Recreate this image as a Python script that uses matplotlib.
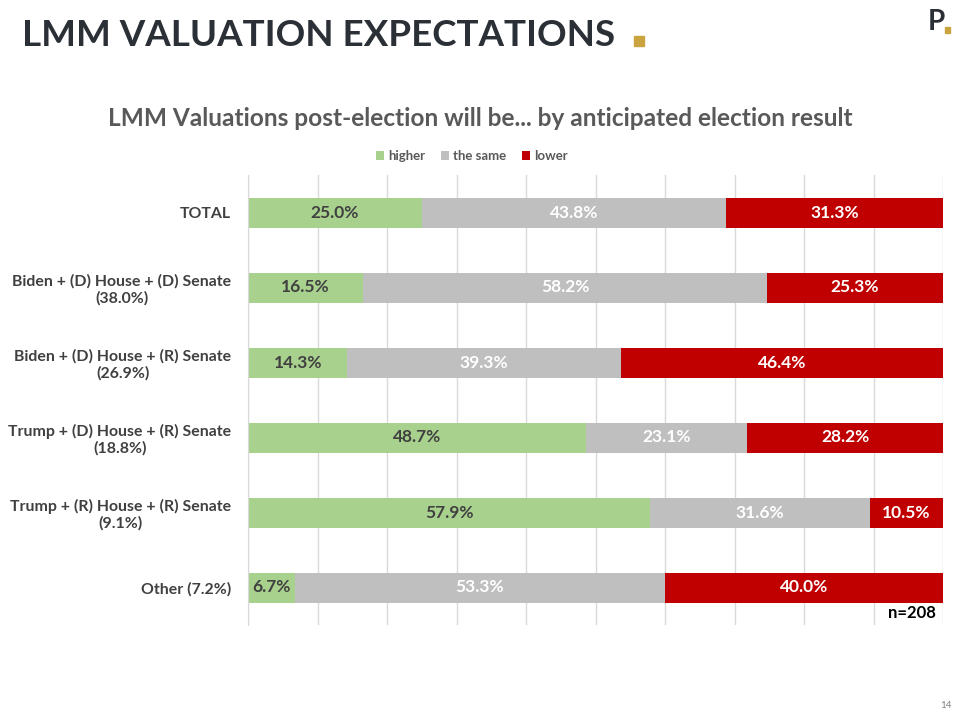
import numpy as np
import matplotlib.pyplot as plt
from matplotlib.patches import Rectangle

plt.rcParams['font.family'] = ['Lato', 'DejaVu Sans']

categories = ['TOTAL',
              'Biden + (D) House + (D) Senate\n(38.0%)',
              'Biden + (D) House + (R) Senate\n(26.9%)',
              'Trump + (D) House + (R) Senate\n(18.8%)',
              'Trump + (R) House + (R) Senate\n(9.1%)',
              'Other (7.2%)']
higher = [25.0, 16.5, 14.3, 48.7, 57.9, 6.7]
same = [43.8, 58.2, 39.3, 23.1, 31.6, 53.3]
lower = [31.3, 25.3, 46.4, 28.2, 10.5, 40.0]
series = [('higher', higher, '#a9d18e', '#404040'),
          ('the same', same, '#bfbfbf', 'white'),
          ('lower', lower, '#c00000', 'white')]

fig = plt.figure(figsize=(9.6, 7.2), dpi=100)
ax = fig.add_axes([248/960, 1-625/720, 695/960, 450/720])

y = np.arange(len(categories))
left = np.zeros(len(categories))
for name, vals, col, tcol in series:
    vals = np.array(vals)
    ax.barh(y, vals, left=left, height=0.4, color=col, label=name, zorder=2)
    for yi, l, v in zip(y, left, vals):
        ax.text(l + v/2, yi, f'{v:.1f}%', ha='center', va='center',
                color=tcol, fontsize=12.5, fontweight='bold', zorder=3)
    left += vals

ax.set_xlim(0, 100)
ax.set_ylim(len(categories) - 0.5, -0.5)
ax.set_xticks(np.arange(0, 101, 10))
ax.xaxis.grid(True, color='#d9d9d9', linewidth=1, zorder=0)
ax.tick_params(axis='x', length=0, labelbottom=False)
ax.tick_params(axis='y', length=0, pad=12)
ax.set_yticks(y)
ax.set_yticklabels(categories, fontsize=11.4, fontweight='bold', color='#404040')
for lab in ax.get_yticklabels():
    lab.set_multialignment('center')
for s in ['top', 'right', 'bottom']:
    ax.spines[s].set_visible(False)
ax.spines['left'].set_color('#d9d9d9')

ax.text(99, 5.45, 'n=208', ha='right', va='bottom', fontsize=12,
        fontweight='bold', color='black')

leg = fig.legend(loc='center', bbox_to_anchor=(472/960, 1-156/720), ncol=3,
                 frameon=False, fontsize=9.5, handlelength=0.6, handleheight=0.6,
                 handletextpad=0.3, columnspacing=1.2)
for t in leg.get_texts():
    t.set_color('#595959')
    t.set_fontweight('bold')

fig.text(480/960, 1-118/720,
         'LMM Valuations post-election will be... by anticipated election result',
         ha='center', va='center', fontsize=17.6, fontweight='bold', color='#595959')

fig.text(22/960, 1-35/720, 'LMM VALUATION EXPECTATIONS', ha='left', va='center',
         fontsize=26.5, fontweight='bold', color='#2b2f36')
fig.patches.append(Rectangle((634/960, 1-46/720), 10/960, 10/720,
                             transform=fig.transFigure, color='#c9a43f'))

# logo
fig.text(928/960, 1-22/720, 'P', ha='left', va='center', fontsize=20,
         fontweight='bold', color='#2b2f36')
fig.patches.append(Rectangle((945/960, 1-33/720), 5/960, 6/720,
                             transform=fig.transFigure, color='#c9a43f'))

fig.text(946/960, 1-706/720, '14', ha='center', va='center', fontsize=7,
         color='#808080')

fig.savefig('out.png', dpi=100)
